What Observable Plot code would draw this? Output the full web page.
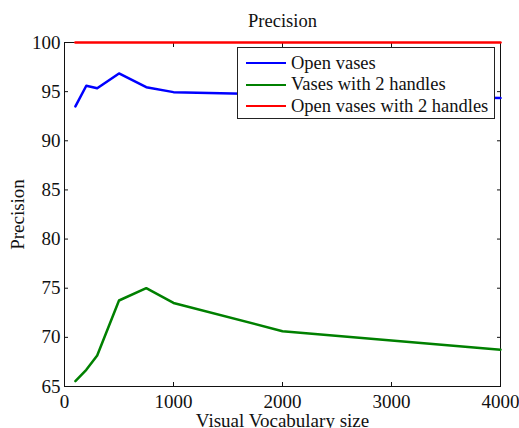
<!DOCTYPE html>
<html>
<head>
<meta charset="utf-8">
<script src="https://cdn.jsdelivr.net/npm/d3@7"></script>
<script src="https://cdn.jsdelivr.net/npm/@observablehq/plot@0.6"></script>
<style>
  body { margin: 0; background: #fff; }
  #wrap { position: relative; width: 519px; height: 428px; overflow: hidden; }
  #legend { position: absolute; left: 237px; top: 47px; width: 258px; height: 72px;
    border: 1px solid #222; background: #fff; font: 18.5px "Liberation Serif", serif; color: #111; box-sizing: border-box; }
  .row { position: absolute; left: 8px; height: 22px; display: flex; align-items: center; white-space: nowrap; }
  .sw { width: 40px; height: 0; border-top: 2.5px solid; margin-right: 5px; }
</style>
</head>
<body>
<div id="wrap"></div>
<script>
const sizes = [100, 200, 300, 500, 750, 1000, 2000, 4000];
const openVases = [93.5, 95.6, 95.35, 96.85, 95.45, 94.95, 94.7, 94.35];
const twoHandles = [65.55, 66.7, 68.15, 73.75, 75.0, 73.5, 70.63, 68.74];
const openTwoHandles = [100, 100, 100, 100, 100, 100, 100, 100];
const seriesNames = ["Open vases", "Vases with 2 handles", "Open vases with 2 handles"];
const seriesColors = ["#0000ff", "#008000", "#ff0000"];
const xTicks = [0, 1000, 2000, 3000, 4000];
const yTicks = [65, 70, 75, 80, 85, 90, 95, 100];

const seriesValues = [openVases, twoHandles, openTwoHandles];
const rows = seriesValues.flatMap((vals, i) => vals.map((v, j) => ({series: seriesNames[i], x: sizes[j], y: v})));

const blank = () => "";
const chart = Plot.plot({
  width: 519, height: 428,
  marginLeft: 64, marginRight: 19, marginTop: 42, marginBottom: 42,
  style: {fontFamily: "Liberation Serif", fontSize: "19px", color: "#111", background: "#fff"},
  x: {domain: [0, 4000]},
  y: {domain: [65, 100]},
  color: {domain: seriesNames, range: seriesColors},
  marks: [
    Plot.frame({stroke: "#111", strokeWidth: 1}),
    Plot.axisX(xTicks, {anchor: "bottom", tickSize: -4, tickPadding: 12, tickFormat: "d", label: "Visual Vocabulary size", labelAnchor: "center", labelOffset: 40, labelArrow: "none", fontSize: 19}),
    Plot.axisX(xTicks, {anchor: "top", tickSize: -4, tickFormat: blank, label: null}),
    Plot.axisY(yTicks, {anchor: "left", tickSize: -4, tickPadding: 8, label: "Precision", labelAnchor: "center", labelOffset: 54, labelArrow: "none", fontSize: 19}),
    Plot.axisY(yTicks, {anchor: "right", tickSize: -4, tickFormat: blank, label: null}),
    Plot.line(rows, {x: "x", y: "y", z: "series", stroke: "series", strokeWidth: 2.5, clip: false}),
    Plot.text(["Precision"], {frameAnchor: "top", lineAnchor: "middle", dy: -21, fontSize: 18.5})
  ]
});
const wrap = document.getElementById("wrap");
wrap.appendChild(chart);

const legend = document.createElement("div");
legend.id = "legend";
seriesNames.forEach((name, i) => {
  const row = document.createElement("div");
  row.className = "row";
  row.style.top = (4 + i * 21.7) + "px";
  row.innerHTML = `<span class="sw" style="border-color:${seriesColors[i]}"></span><span>${name}</span>`;
  legend.appendChild(row);
});
wrap.appendChild(legend);
</script>
</body>
</html>
